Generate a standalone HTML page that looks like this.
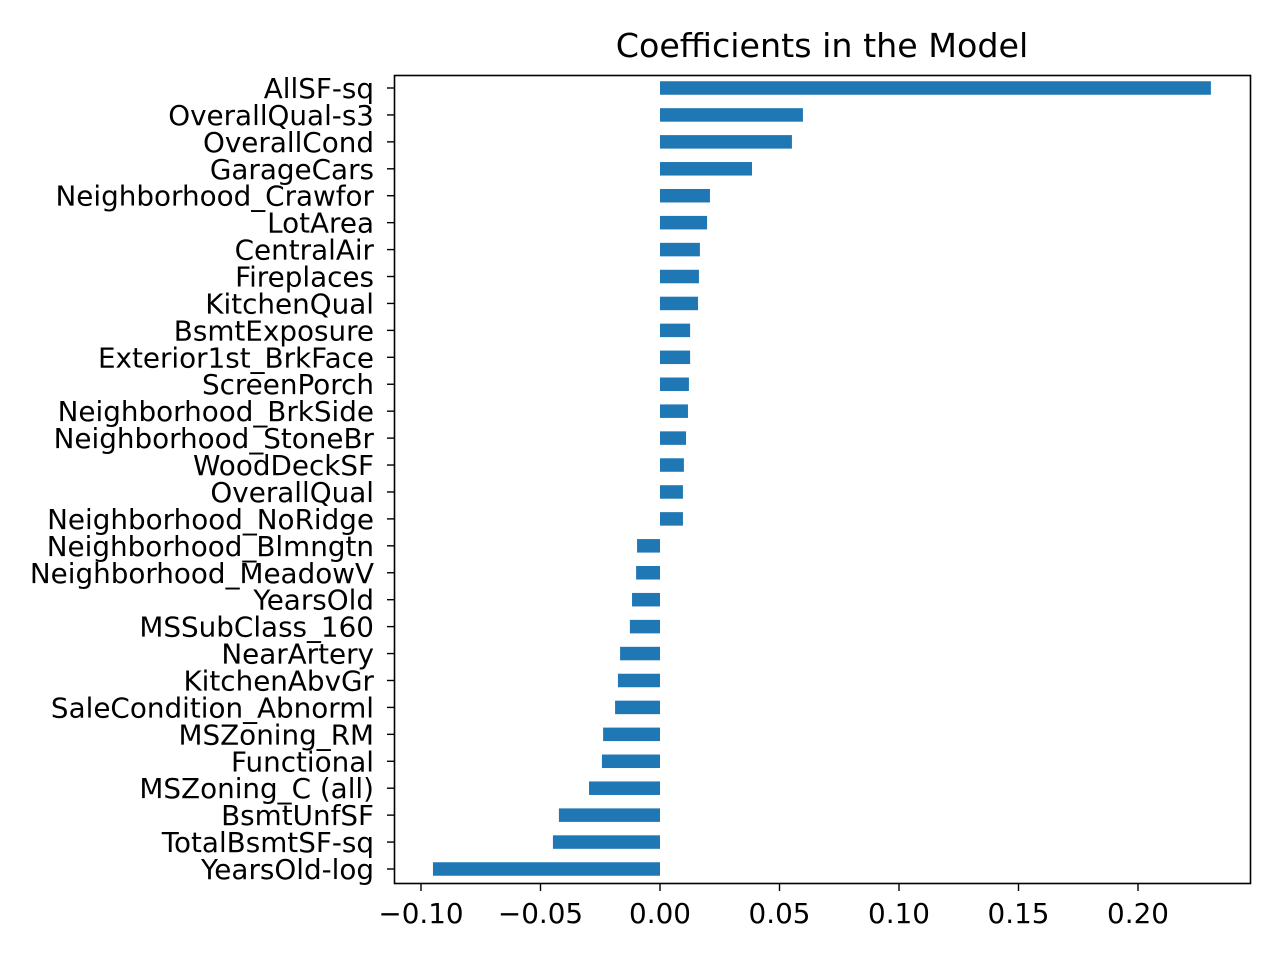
<!DOCTYPE html>
<html><head><meta charset="utf-8"><style>
body{margin:0;background:#fff}
svg{display:block;font-family:"DejaVu Sans","Liberation Sans",sans-serif}
</style></head><body>
<svg id="chart" width="1280" height="960">
<rect x="0" y="0" width="1280" height="960" fill="#fff"/>
<text x="822" y="57" text-anchor="middle" font-size="33.3">Coefficients in the Model</text>
<g id="bars"></g>
<g id="yticks"></g>
<g id="xticks"></g>
<rect x="394.5" y="75.5" width="856" height="808" fill="none" stroke="#000" stroke-width="1.6"/>
</svg>
<script>
const categories=["AllSF-sq","OverallQual-s3","OverallCond","GarageCars","Neighborhood_Crawfor","LotArea","CentralAir","Fireplaces","KitchenQual","BsmtExposure","Exterior1st_BrkFace","ScreenPorch","Neighborhood_BrkSide","Neighborhood_StoneBr","WoodDeckSF","OverallQual","Neighborhood_NoRidge","Neighborhood_Blmngtn","Neighborhood_MeadowV","YearsOld","MSSubClass_160","NearArtery","KitchenAbvGr","SaleCondition_Abnorml","MSZoning_RM","Functional","MSZoning_C (all)","BsmtUnfSF","TotalBsmtSF-sq","YearsOld-log"];
const values=[0.2305,0.0598,0.0552,0.0385,0.0209,0.0197,0.0167,0.0163,0.0159,0.0126,0.0126,0.0121,0.0117,0.0109,0.0100,0.0096,0.0096,-0.0096,-0.0100,-0.0117,-0.0126,-0.0167,-0.0176,-0.0188,-0.0238,-0.0243,-0.0297,-0.0423,-0.0448,-0.0950];
const xTicks=[-0.10,-0.05,0.00,0.05,0.10,0.15,0.20];
const xTickLabels=["\u22120.10","\u22120.05","0.00","0.05","0.10","0.15","0.20"];
const NS="http://www.w3.org/2000/svg";
const x=v=>660+v*2390;
const y=i=>88+i*(781/29);
const bh=13.5;
const bars=document.getElementById('bars'),yt=document.getElementById('yticks'),xt=document.getElementById('xticks');
categories.forEach((c,i)=>{
  const r=document.createElementNS(NS,'rect');
  const v=values[i];
  r.setAttribute('x',Math.min(x(0),x(v)));r.setAttribute('y',y(i)-bh/2);
  r.setAttribute('width',Math.abs(x(v)-x(0)));r.setAttribute('height',bh);r.setAttribute('fill','#1f77b4');
  
  
  bars.appendChild(r);
  const l=document.createElementNS(NS,'line');
  l.setAttribute('x1',387);l.setAttribute('x2',394);l.setAttribute('y1',y(i));l.setAttribute('y2',y(i));l.setAttribute('stroke','#000');l.setAttribute('stroke-width',1.4);
  
  
  yt.appendChild(l);
  const t=document.createElementNS(NS,'text');
  t.setAttribute('x',374);t.setAttribute('y',y(i)+10);t.setAttribute('text-anchor','end');t.setAttribute('font-size',27.8);
  t.textContent=c;
  
  
  yt.appendChild(t);
});
xTicks.forEach((v,i)=>{
  const l=document.createElementNS(NS,'line');
  l.setAttribute('x1',x(v));l.setAttribute('x2',x(v));l.setAttribute('y1',884);l.setAttribute('y2',891);l.setAttribute('stroke','#000');l.setAttribute('stroke-width',1.4);
  
  
  xt.appendChild(l);
  const t=document.createElementNS(NS,'text');
  t.setAttribute('x',x(v));t.setAttribute('y',923);t.setAttribute('text-anchor','middle');t.setAttribute('font-size',27.8);
  t.textContent=xTickLabels[i];
  
  
  xt.appendChild(t);
});
</script>
</body></html>
